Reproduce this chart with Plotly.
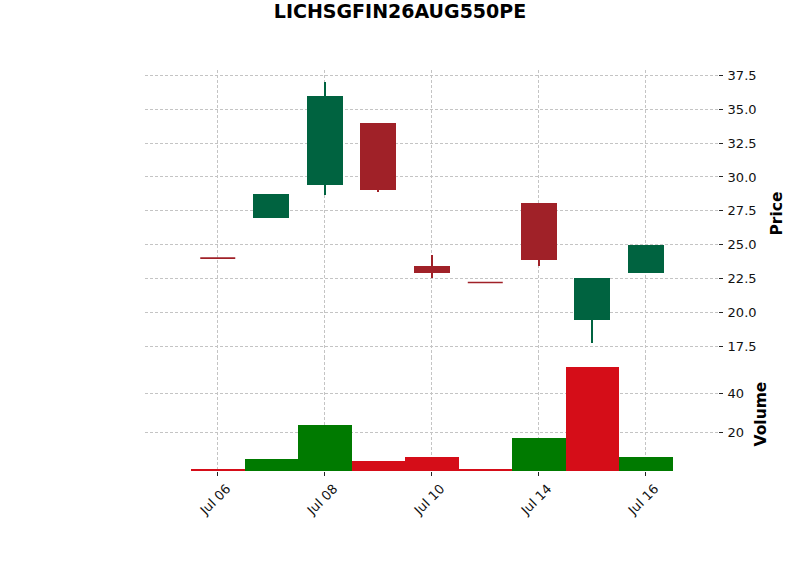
import plotly.graph_objects as go
from plotly.subplots import make_subplots

dates = ["Jul 06", "Jul 07", "Jul 08", "Jul 09", "Jul 10", "Jul 13", "Jul 14", "Jul 15", "Jul 16"]
opens = [24.0, 27.0, 29.4, 34.0, 23.45, 22.2, 28.1, 19.45, 22.9]
highs = [24.0, 28.75, 37.0, 34.0, 24.2, 22.2, 28.1, 22.55, 25.0]
lows = [24.0, 27.0, 28.7, 28.9, 22.5, 22.2, 23.4, 17.7, 22.9]
closes = [24.0, 28.75, 36.0, 29.0, 22.9, 22.2, 23.85, 22.55, 25.0]
volumes = [0.5, 6, 23.7, 5, 7, 0.5, 17, 53.5, 7]

tick_idx = [0, 2, 4, 6, 8]
tick_text = ["Jul 06", "Jul 08", "Jul 10", "Jul 14", "Jul 16"]

UP, DOWN = "#006340", "#A02128"
VUP, VDOWN = "#007a00", "#d50d18"

idx = list(range(len(dates)))
is_up = [closes[i] > opens[i] for i in idx]
vol_up = [i > 0 and closes[i] > closes[i - 1] for i in idx]
ccol = [UP if u else DOWN for u in is_up]

fig = make_subplots(rows=2, cols=1, shared_xaxes=False, vertical_spacing=0,
                    row_heights=[0.716, 0.284])

# wicks
fig.add_trace(go.Bar(x=idx, base=lows, y=[h - l for h, l in zip(highs, lows)], width=0.028,
                     marker=dict(color=ccol, line=dict(width=0)),
                     showlegend=False, hoverinfo="skip"), row=1, col=1)
# bodies
fig.add_trace(go.Bar(x=idx, base=[min(o, c) for o, c in zip(opens, closes)],
                     y=[abs(c - o) for o, c in zip(opens, closes)], width=0.68,
                     marker=dict(color=ccol, line=dict(width=0)),
                     showlegend=False, hoverinfo="skip"), row=1, col=1)
# flat (doji) candles drawn as horizontal line markers
flat = [i for i in idx if opens[i] == closes[i]]
fig.add_trace(go.Scatter(x=flat, y=[closes[i] for i in flat], mode="markers",
                         marker=dict(symbol="line-ew", size=25,
                                     line=dict(color=[ccol[i] for i in flat], width=1.6)),
                         showlegend=False, hoverinfo="skip"), row=1, col=1)

fig.add_trace(go.Bar(x=idx, y=volumes, width=1.0,
                     marker=dict(color=[VUP if u else VDOWN for u in vol_up], line=dict(width=0)),
                     showlegend=False, hoverinfo="skip"), row=2, col=1)

font = dict(family="DejaVu Sans", size=13, color="#111111")
grid = dict(showgrid=True, gridcolor="#c4c4c4", gridwidth=0.8, griddash="3px,2px", zeroline=False,
            showline=False)
xr = [-1.36, 9.35]
fig.update_xaxes(range=xr, tickvals=tick_idx, ticktext=tick_text,
                 tickfont=font, **grid)
fig.update_xaxes(showticklabels=False, ticks="", row=1, col=1)
fig.update_xaxes(ticks="outside", ticklen=4, tickcolor="#222", tickwidth=1.2, tickangle=-45,
                 ticklabelshift=9, row=2, col=1)
fig.update_yaxes(side="right", ticks="outside", ticklen=4, tickcolor="#222", tickwidth=1.2,
                 tickfont=font, ticklabelstandoff=2, **grid)
fig.update_yaxes(range=[16.69, 37.9], tickvals=[17.5, 20, 22.5, 25, 27.5, 30, 32.5, 35, 37.5],
                 ticktext=["17.5", "20.0", "22.5", "25.0", "27.5", "30.0", "32.5", "35.0", "37.5"],
                 title=dict(text="<b>Price</b>", font=dict(family="DejaVu Sans", size=15.5, color="#000"),
                            standoff=15),
                 row=1, col=1)
fig.update_yaxes(range=[0, 58.7], tickvals=[20, 40],
                 title=dict(text="<b>Volume</b>", font=dict(family="DejaVu Sans", size=15.5, color="#000"),
                            standoff=12),
                 row=2, col=1)

fig.update_layout(
    width=800, height=575, plot_bgcolor="white", paper_bgcolor="white",
    margin=dict(l=145, r=82, t=70, b=104),
    title=dict(text="<b>LICHSGFIN26AUG550PE</b>", x=0.5, xanchor="center", y=0.98, yanchor="middle",
               font=dict(family="DejaVu Sans", size=19, color="#000")),
    barmode="overlay", bargap=0,
)
fig.write_html("out.html")
